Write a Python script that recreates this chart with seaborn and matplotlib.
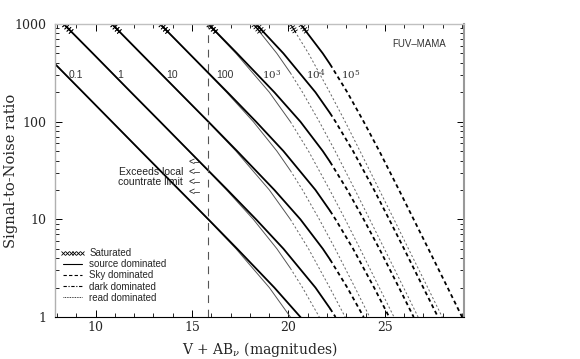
import pandas as pd
import matplotlib
matplotlib.use("Agg")
import matplotlib.pyplot as plt
import matplotlib.patheffects as pe
from matplotlib.lines import Line2D
from matplotlib.ticker import MultipleLocator, FixedLocator, FixedFormatter, NullFormatter
import seaborn as sns

# S/N levels shared by every curve
sn_levels = [1000, 500, 200, 100, 50, 20, 10, 5, 2, 1]
exposures = ["0.1", "1", "10", "100", "$10^3$", "$10^4$", "$10^5$"]

# V+AB_nu reached at each S/N level, average sky (thick lines)
mag_avg_sky = [
    [5.85, 7.36, 9.35, 10.85, 12.35, 14.34, 15.85, 17.34, 19.27, 20.62],
    [8.35, 9.86, 11.84, 13.35, 14.85, 16.84, 18.32, 19.74, 21.40, 22.44],
    [10.85, 12.35, 14.34, 15.85, 17.34, 19.27, 20.62, 21.78, 23.05, 23.90],
    [13.35, 14.85, 16.84, 18.32, 19.74, 21.40, 22.44, 23.35, 24.44, 25.22],
    [15.85, 17.34, 19.27, 20.62, 21.78, 23.05, 23.90, 24.71, 25.73, 26.49],
    [18.32, 19.74, 21.40, 22.44, 23.35, 24.44, 25.22, 25.99, 26.99, 27.75],
    [20.62, 21.78, 23.05, 23.90, 24.71, 25.73, 26.49, 27.25, 28.25, 29.00],
]
# same, high sky (thin lines)
mag_high_sky = [
    [5.85, 7.36, 9.34, 10.85, 12.35, 14.34, 15.83, 17.28, 19.01, 20.10],
    [8.35, 9.86, 11.84, 13.35, 14.85, 16.79, 18.18, 19.40, 20.73, 21.60],
    [10.85, 12.35, 14.34, 15.83, 17.28, 19.01, 20.10, 21.04, 22.14, 22.94],
    [13.35, 14.85, 16.79, 18.18, 19.40, 20.73, 21.60, 22.42, 23.45, 24.21],
    [15.83, 17.28, 19.01, 20.10, 21.04, 22.14, 22.94, 23.71, 24.71, 25.47],
    [18.18, 19.40, 20.73, 21.60, 22.42, 23.45, 24.21, 24.97, 25.97, 26.72],
    [20.10, 21.04, 22.14, 22.94, 23.71, 24.71, 25.47, 26.22, 27.22, 27.97],
]

# point where sky starts to dominate (mag, S/N per exposure)
sky_mag_avg = 22.16
sky_sn_avg = [0.39, 1.22, 3.87, 12.2, 38.7, 122, 387]
sky_mag_high = 20.10
sky_sn_high = [1.0, 3.16, 10.0, 31.6, 100, 316, 1000]

# saturated stretch at the top of the curves: mags at S/N 1000 and 820
sat_sn = [1000, 820]
sat_avg = [None, [8.35, 8.78], [10.85, 11.28], [13.35, 13.78], [15.85, 16.28], [18.32, 18.74], [20.62, 20.97]]
sat_high = [None, [8.35, 8.78], [10.85, 11.28], [13.35, 13.78], [15.83, 16.25], [18.18, 18.55], [20.10, 20.38]]

countrate_limit = 15.83

# build long table of line segments
rows = []
for sky, mags, smag, ssn in [("avg", mag_avg_sky, sky_mag_avg, sky_sn_avg),
                             ("high", mag_high_sky, sky_mag_high, sky_sn_high)]:
    for i, mm in enumerate(mags):
        src = [(m, s) for m, s in zip(mm, sn_levels) if s > ssn[i]] + [(smag, ssn[i])]
        bkg = [(smag, ssn[i])] + [(m, s) for m, s in zip(mm, sn_levels) if s < ssn[i]]
        for regime, pts in (("source", src), ("sky", bkg)):
            if len(pts) < 2:
                continue
            for m, s in pts:
                rows.append(dict(mag=m, sn=s, sky=sky, regime=regime, seg=f"{sky}-{i}-{regime}"))
df = pd.DataFrame(rows)

styles = {
    ("high", "source"): dict(color="#555555", lw=0.7, ls="-"),
    ("high", "sky"): dict(color="#666666", lw=0.7, ls=(0, (2.2, 2.2))),
    ("avg", "source"): dict(color="black", lw=1.3, ls="-"),
    ("avg", "sky"): dict(color="black", lw=1.3, ls=(0, (2.2, 1.8))),
}

sns.set_style("ticks")
plt.rcParams["font.family"] = ["DejaVu Serif"]
plt.rcParams["mathtext.fontset"] = "dejavuserif"

fig = plt.figure(figsize=(5.8, 3.59), dpi=100)
ax = fig.add_axes([55 / 580, 42 / 359, 409 / 580, 293 / 359])
ax.set_yscale("log")

for (sky, regime), st in styles.items():
    sub = df[(df.sky == sky) & (df.regime == regime)]
    sns.lineplot(data=sub, x="mag", y="sn", units="seg", estimator=None, sort=False,
                 color=st["color"], lw=st["lw"], linestyle=st["ls"], ax=ax, legend=False)

# saturated parts drawn as little crosses
cross = [pe.TickedStroke(angle=a, spacing=1.8, length=1.1, linewidth=0.6, foreground="black")
         for a in (90, -90)]
for sat in sat_avg + sat_high:
    if sat is None:
        continue
    ax.plot(sat, sat_sn, color="black", lw=0.8, path_effects=[pe.Normal()] + cross)

ax.axvline(countrate_limit, color="#555555", lw=0.8, ls=(0, (7, 6)))

sans = "Liberation Sans"
label_mag = [8.99, 11.27, 13.97, 16.71, 19.15, 21.42, 23.24]
for lab, m in zip(exposures, label_mag):
    ax.text(m, 300, lab, ha="center", va="center", fontsize=7.5, family=sans, color="#333333")

ax.text(14.53, 30.6, "Exceeds local", ha="right", va="center", fontsize=7.5, family=sans, color="#222222")
ax.text(14.53, 24.1, "countrate limit", ha="right", va="center", fontsize=7.5, family=sans, color="#222222")
for s in [38.7, 30.6, 24.1, 19.2]:
    ax.text(14.84, s, "<\u2013", ha="left", va="center", fontsize=7.5, family=sans, color="#222222")

ax.text(26.78, 624, "FUV\u2013MAMA", ha="center", va="center", fontsize=7, family=sans, color="#333333")

ax.set_xlim(7.9, 29.1)
ax.set_ylim(1, 1000)
ax.xaxis.set_major_locator(MultipleLocator(5))
ax.xaxis.set_minor_locator(MultipleLocator(1))
ax.yaxis.set_major_locator(FixedLocator([1, 10, 100, 1000]))
ax.yaxis.set_major_formatter(FixedFormatter(["1", "10", "100", "1000"]))
ax.yaxis.set_minor_locator(FixedLocator([d * 10 ** e for e in range(3) for d in range(2, 10)]))
ax.yaxis.set_minor_formatter(NullFormatter())
ax.tick_params(which="both", direction="in", top=True, right=True, color="black", labelsize=9)
ax.tick_params(which="major", length=5, width=0.7)
ax.tick_params(which="minor", length=3, width=0.6)
ax.tick_params(axis="y", pad=6)
ax.tick_params(axis="x", pad=3)

for side, c, w in [("top", "#c0c0c0", 1.0), ("left", "#b0b0b0", 1.0), ("right", "#999999", 1.5), ("bottom", "black", 0.8)]:
    ax.spines[side].set_color(c)
    ax.spines[side].set_linewidth(w)

ax.set_xlabel(r"V + AB$_\nu$ (magnitudes)", fontsize=10, labelpad=4)
ax.set_ylabel("Signal-to-Noise ratio", fontsize=10.5)
ax.yaxis.set_label_coords(-0.09, 0.5)

handles = [
    Line2D([], [], color="black", marker="x", ls="none", markersize=2.5, mew=0.6),
    Line2D([], [], color="black", lw=0.8, ls="-"),
    Line2D([], [], color="black", lw=0.8, ls=(0, (3, 2))),
    Line2D([], [], color="black", lw=0.8, ls=(0, (3, 1.5, 1, 1.5))),
    Line2D([], [], color="black", lw=0.6, ls=(0, (1, 1))),
]
labels = ["Saturated", "source dominated", "Sky dominated", "dark dominated", "read dominated"]
leg = ax.legend(handles, labels, loc="upper left", bbox_to_anchor=(0.012, 0.235), frameon=False,
                numpoints=6, handlelength=2.6, handletextpad=0.4, labelspacing=0.12,
                borderaxespad=0, borderpad=0, prop={"family": sans, "size": 7})

fig.savefig("out.png", dpi=100)
